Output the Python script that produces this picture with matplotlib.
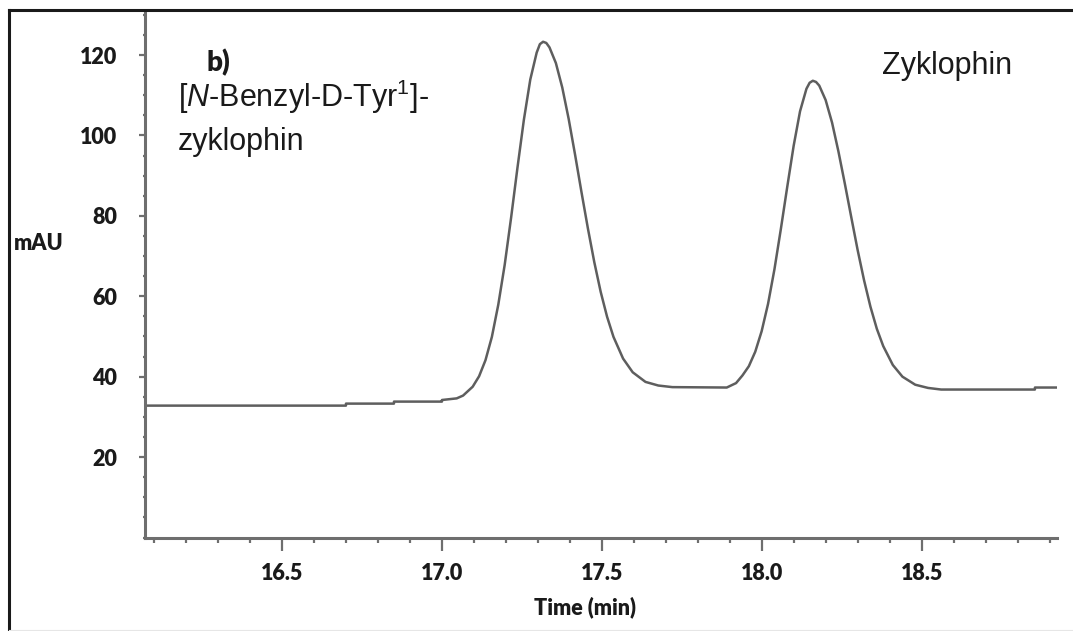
import matplotlib
matplotlib.use("Agg")
import matplotlib.pyplot as plt
from matplotlib.lines import Line2D
from matplotlib.ticker import MultipleLocator

plt.rcParams['mathtext.fontset'] = 'custom'
plt.rcParams['mathtext.rm'] = 'Liberation Sans'
plt.rcParams['mathtext.it'] = 'Liberation Sans:italic'

# chromatogram: time (min) and absorbance (mAU)
time = [16.07, 16.70, 16.70, 16.85, 16.85, 17.00, 17.00, 17.046,
        17.066, 17.096, 17.116, 17.136, 17.156, 17.176, 17.196, 17.216,
        17.236, 17.256, 17.276, 17.296, 17.306, 17.316, 17.326,
        17.336, 17.356, 17.376, 17.396, 17.416, 17.436, 17.456, 17.476,
        17.496, 17.516, 17.536, 17.566, 17.596, 17.636, 17.676, 17.72,
        17.89,
        17.919, 17.939, 17.959, 17.979, 17.999, 18.019, 18.039, 18.059,
        18.079, 18.099, 18.119, 18.139, 18.149, 18.159, 18.169,
        18.179, 18.199, 18.219, 18.239, 18.259, 18.279, 18.299, 18.319,
        18.339, 18.359, 18.379, 18.409, 18.439, 18.479, 18.519, 18.56,
        18.853, 18.853, 18.922]
mau = [32.8, 32.8, 33.3, 33.3, 33.8, 33.8, 34.2, 34.6,
       35.3, 37.5, 40.1, 44.1, 49.9, 57.9, 67.8, 79.5,
       92.0, 103.9, 113.9, 120.6, 122.7, 123.3, 123.0,
       121.9, 118.0, 111.9, 104.1, 95.2, 85.9, 76.9, 68.5,
       61.1, 54.9, 49.9, 44.5, 41.1, 38.7, 37.8, 37.4,
       37.3,
       38.4, 40.3, 42.6, 46.2, 51.3, 58.1, 66.7, 76.7,
       87.2, 97.4, 106.0, 111.6, 113.1, 113.6, 113.3,
       112.4, 108.8, 103.2, 96.0, 88.0, 79.7, 71.5, 64.0,
       57.4, 51.9, 47.6, 42.9, 40.0, 38.0, 37.2, 36.8,
       36.8, 37.3, 37.3]

xticks = [16.5, 17.0, 17.5, 18.0, 18.5]
yticks = [20, 40, 60, 80, 100, 120]

fig = plt.figure(figsize=(10.73, 6.31), dpi=100)
ax = fig.add_axes([145/1073, 1-537.5/631, 912/1073, 525.5/631])

axcol = '#6e6e6e'
ax.plot(time, mau, color='#5e5e5e', lw=1.8, solid_joinstyle='round')

ax.set_xlim(16.072, 18.922)
ax.set_ylim(0.0, 130.7)
ax.set_xticks(xticks)
ax.set_xticklabels(['%.1f' % t for t in xticks])
ax.set_yticks(yticks)
ax.xaxis.set_minor_locator(MultipleLocator(0.1))
ax.yaxis.set_minor_locator(MultipleLocator(5))

for s in ['top', 'right']:
    ax.spines[s].set_visible(False)
for s in ['left', 'bottom']:
    ax.spines[s].set_color(axcol)
    ax.spines[s].set_linewidth(2.2)

tickfont = dict(family='Lato', weight='heavy', size=15.5)
ax.tick_params(axis='x', which='major', direction='out', length=9, width=1.6,
               color=axcol, pad=9)
ax.tick_params(axis='x', which='minor', direction='out', length=3.5, width=1.6,
               color=axcol)
ax.tick_params(axis='y', which='major', direction='out', length=4, width=1.6,
               color=axcol, pad=16)
ax.tick_params(axis='y', which='minor', direction='out', length=1.5, width=1.6,
               color=axcol)
for lab in ax.get_xticklabels() + ax.get_yticklabels():
    lab.set_fontproperties(tickfont)
    lab.set_color('#1a1a1a')

fig.text(14/1073, 1-244/631, 'mAU', fontfamily='Lato', fontweight='heavy',
         fontsize=15.5, va='center', ha='left', color='#1a1a1a')
fig.text(585/1073, 1-607/631, 'Time (min)', fontfamily='Lato', fontweight='heavy',
         fontsize=15.5, va='center', ha='center', color='#1a1a1a')

ax.text(16.265, 118, 'b)', fontfamily='Lato', fontweight='heavy', fontsize=20,
        va='center', ha='left', color='#1a1a1a')
ax.text(16.175, 107.1, r'[$\mathit{N}$-Benzyl-D-Tyr$^{\mathrm{1}}$]-',
        fontfamily='Liberation Sans', fontsize=22, va='baseline', ha='left',
        color='#1a1a1a')
ax.text(16.175, 96.4, 'zyklophin', fontfamily='Liberation Sans', fontsize=22,
        va='baseline', ha='left', color='#1a1a1a')
ax.text(18.375, 115.3, 'Zyklophin', fontfamily='Liberation Sans', fontsize=22,
        va='baseline', ha='left', color='#1a1a1a')

# frame around the panel (left and top edges show in the picture)
fig.add_artist(Line2D([9/1073, 9/1073], [0, 1-10/631], transform=fig.transFigure,
                      color='#1a1a1a', lw=2.2))
fig.add_artist(Line2D([9/1073, 1], [1-10/631, 1-10/631], transform=fig.transFigure,
                      color='#1a1a1a', lw=2.2))
fig.add_artist(Line2D([9/1073, 1], [1-629.5/631, 1-629.5/631], transform=fig.transFigure,
                      color='#e6e6e6', lw=0.8))

fig.savefig('out.png', dpi=100)
